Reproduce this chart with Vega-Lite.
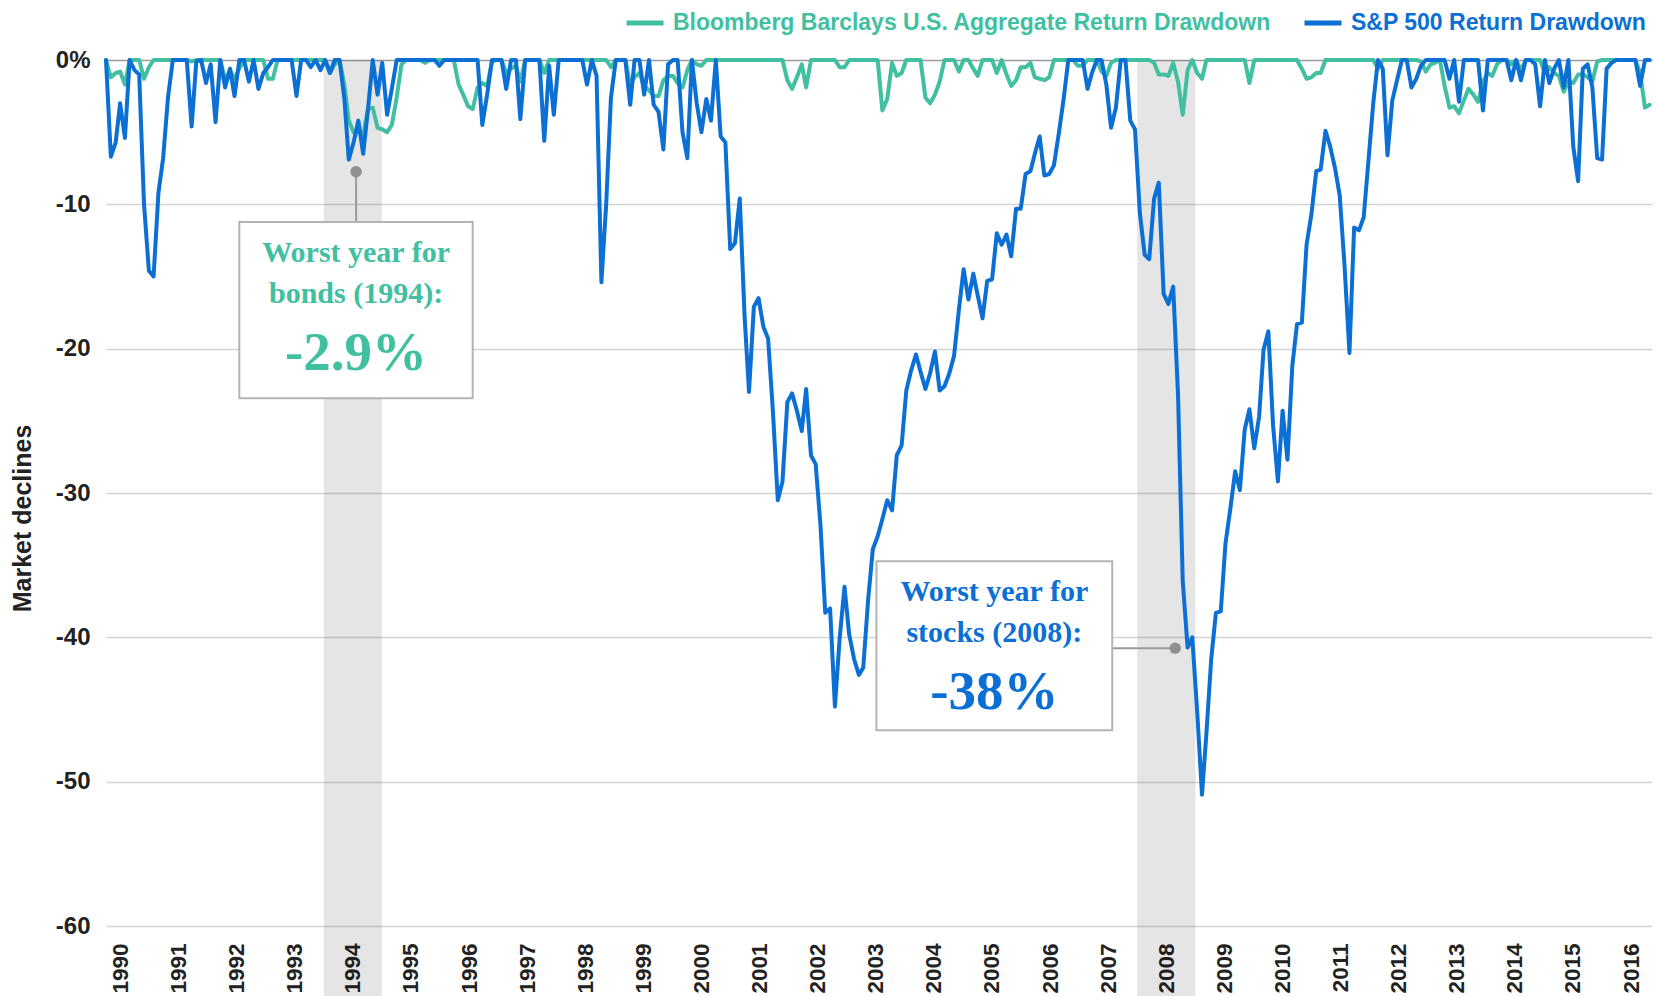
{
"$schema": "https://vega.github.io/schema/vega-lite/v6.json",
"width": 1546, "height": 866,
"autosize": {"type": "none"},
"padding": {"left": 106, "top": 60, "right": 4, "bottom": 70},
"background": "#ffffff",
"config": {"view": {"stroke": null}, "font": "Liberation Sans"},
"datasets": {
"bands": [{"year": "1994", "start": "1994-01-01", "end": "1995-01-01"}, {"year": "2008", "start": "2008-01-01", "end": "2009-01-01"}],
"notes": [
{"series": "b", "x0": "1992-07-19", "x1": "1996-07-25", "xc": "1994-07-23", "top": -11.23, "bottom": -23.44, "px": "1994-07-23", "py": -7.74, "lx0": "1994-07-23", "lx1": "1994-07-23", "ly0": -7.74, "ly1": -11.23, "l1": "Worst year for", "l2": "bonds (1994):", "v": "-2.9%"},
{"series": "s", "x0": "2003-07-07", "x1": "2007-07-28", "xc": "2005-07-17", "top": -34.72, "bottom": -46.43, "px": "2008-08-27", "py": -40.75, "lx0": "2007-07-28", "lx1": "2008-08-27", "ly0": -40.75, "ly1": -40.75, "l1": "Worst year for", "l2": "stocks (2008):", "v": "-38%"}
],
"m": [
{"d":"1989-12-01","s":0,"b":0},
{"d":"1990-01-01","s":-6.7,"b":-1.2},{"d":"1990-02-01","s":-5.7,"b":-0.9},{"d":"1990-03-01","s":-3.0,"b":-0.8},{"d":"1990-04-01","s":-5.4,"b":-1.7},{"d":"1990-05-01","s":0,"b":0},{"d":"1990-06-01","s":-0.7,"b":0},{"d":"1990-07-01","s":-1.0,"b":0},{"d":"1990-08-01","s":-10.0,"b":-1.3},{"d":"1990-09-01","s":-14.6,"b":-0.5},{"d":"1990-10-01","s":-15.0,"b":0},{"d":"1990-11-01","s":-9.2,"b":0},{"d":"1990-12-01","s":-6.8,"b":0},
{"d":"1991-01-01","s":-2.6,"b":0},{"d":"1991-02-01","s":0,"b":0},{"d":"1991-03-01","s":0,"b":0},{"d":"1991-04-01","s":0,"b":0},{"d":"1991-05-01","s":0,"b":0},{"d":"1991-06-01","s":-4.6,"b":-0.1},{"d":"1991-07-01","s":-0.1,"b":0},{"d":"1991-08-01","s":0,"b":0},{"d":"1991-09-01","s":-1.6,"b":0},{"d":"1991-10-01","s":-0.3,"b":0},{"d":"1991-11-01","s":-4.3,"b":0},{"d":"1991-12-01","s":0,"b":0},
{"d":"1992-01-01","s":-1.9,"b":-1.4},{"d":"1992-02-01","s":-0.6,"b":-0.7},{"d":"1992-03-01","s":-2.5,"b":-1.3},{"d":"1992-04-01","s":0,"b":-0.6},{"d":"1992-05-01","s":0,"b":0},{"d":"1992-06-01","s":-1.5,"b":0},{"d":"1992-07-01","s":0,"b":0},{"d":"1992-08-01","s":-2.0,"b":0},{"d":"1992-09-01","s":-0.9,"b":0},{"d":"1992-10-01","s":-0.5,"b":-1.3},{"d":"1992-11-01","s":0,"b":-1.3},{"d":"1992-12-01","s":0,"b":0},
{"d":"1993-01-01","s":0,"b":0},{"d":"1993-02-01","s":0,"b":0},{"d":"1993-03-01","s":0,"b":0},{"d":"1993-04-01","s":-2.5,"b":0},{"d":"1993-05-01","s":0,"b":0},{"d":"1993-06-01","s":0,"b":0},{"d":"1993-07-01","s":-0.5,"b":0},{"d":"1993-08-01","s":0,"b":0},{"d":"1993-09-01","s":-0.7,"b":0},{"d":"1993-10-01","s":0,"b":0},{"d":"1993-11-01","s":-0.9,"b":-0.9},{"d":"1993-12-01","s":0,"b":-0.3},
{"d":"1994-01-01","s":0,"b":0},{"d":"1994-02-01","s":-2.7,"b":-1.7},{"d":"1994-03-01","s":-6.9,"b":-4.2},{"d":"1994-04-01","s":-5.7,"b":-5.0},{"d":"1994-05-01","s":-4.2,"b":-5.0},{"d":"1994-06-01","s":-6.5,"b":-5.2},{"d":"1994-07-01","s":-3.5,"b":-3.4},{"d":"1994-08-01","s":0,"b":-3.3},{"d":"1994-09-01","s":-2.4,"b":-4.7},{"d":"1994-10-01","s":-0.2,"b":-4.8},{"d":"1994-11-01","s":-3.8,"b":-5.0},{"d":"1994-12-01","s":-2.0,"b":-4.5},
{"d":"1995-01-01","s":0,"b":-2.6},{"d":"1995-02-01","s":0,"b":-0.3},{"d":"1995-03-01","s":0,"b":0},{"d":"1995-04-01","s":0,"b":0},{"d":"1995-05-01","s":0,"b":0},{"d":"1995-06-01","s":0,"b":0},{"d":"1995-07-01","s":0,"b":-0.2},{"d":"1995-08-01","s":0,"b":0},{"d":"1995-09-01","s":0,"b":0},{"d":"1995-10-01","s":-0.4,"b":0},{"d":"1995-11-01","s":0,"b":0},{"d":"1995-12-01","s":0,"b":0},
{"d":"1996-01-01","s":0,"b":0},{"d":"1996-02-01","s":0,"b":-1.7},{"d":"1996-03-01","s":0,"b":-2.4},{"d":"1996-04-01","s":0,"b":-3.2},{"d":"1996-05-01","s":0,"b":-3.4},{"d":"1996-06-01","s":0,"b":-1.9},{"d":"1996-07-01","s":-4.5,"b":-1.6},{"d":"1996-08-01","s":-2.4,"b":-1.8},{"d":"1996-09-01","s":0,"b":-0.1},{"d":"1996-10-01","s":0,"b":0},{"d":"1996-11-01","s":0,"b":0},{"d":"1996-12-01","s":-2.0,"b":-0.9},
{"d":"1997-01-01","s":0,"b":-0.6},{"d":"1997-02-01","s":0,"b":-0.4},{"d":"1997-03-01","s":-4.1,"b":-1.5},{"d":"1997-04-01","s":0,"b":0},{"d":"1997-05-01","s":0,"b":0},{"d":"1997-06-01","s":0,"b":0},{"d":"1997-07-01","s":0,"b":0},{"d":"1997-08-01","s":-5.6,"b":-0.9},{"d":"1997-09-01","s":-0.4,"b":0},{"d":"1997-10-01","s":-3.8,"b":0},{"d":"1997-11-01","s":0,"b":0},{"d":"1997-12-01","s":0,"b":0},
{"d":"1998-01-01","s":0,"b":0},{"d":"1998-02-01","s":0,"b":0},{"d":"1998-03-01","s":0,"b":0},{"d":"1998-04-01","s":0,"b":0},{"d":"1998-05-01","s":-1.7,"b":0},{"d":"1998-06-01","s":0,"b":0},{"d":"1998-07-01","s":-1.1,"b":0},{"d":"1998-08-01","s":-15.4,"b":0},{"d":"1998-09-01","s":-9.9,"b":0},{"d":"1998-10-01","s":-2.6,"b":-0.5},{"d":"1998-11-01","s":0,"b":0},{"d":"1998-12-01","s":0,"b":0},
{"d":"1999-01-01","s":0,"b":0},{"d":"1999-02-01","s":-3.1,"b":-1.7},{"d":"1999-03-01","s":0,"b":-1.2},{"d":"1999-04-01","s":0,"b":-0.9},{"d":"1999-05-01","s":-2.4,"b":-1.8},{"d":"1999-06-01","s":0,"b":-2.1},{"d":"1999-07-01","s":-3.1,"b":-2.5},{"d":"1999-08-01","s":-3.6,"b":-2.5},{"d":"1999-09-01","s":-6.2,"b":-1.4},{"d":"1999-10-01","s":-0.3,"b":-1.1},{"d":"1999-11-01","s":0,"b":-1.1},{"d":"1999-12-01","s":0,"b":-1.6},
{"d":"2000-01-01","s":-5.0,"b":-1.9},{"d":"2000-02-01","s":-6.8,"b":-0.7},{"d":"2000-03-01","s":0,"b":0},{"d":"2000-04-01","s":-3.0,"b":-0.3},{"d":"2000-05-01","s":-5.0,"b":-0.4},{"d":"2000-06-01","s":-2.7,"b":0},{"d":"2000-07-01","s":-4.2,"b":0},{"d":"2000-08-01","s":0,"b":0},{"d":"2000-09-01","s":-5.3,"b":0},{"d":"2000-10-01","s":-5.7,"b":0},{"d":"2000-11-01","s":-13.1,"b":0},{"d":"2000-12-01","s":-12.7,"b":0},
{"d":"2001-01-01","s":-9.6,"b":0},{"d":"2001-02-01","s":-17.8,"b":0},{"d":"2001-03-01","s":-23.0,"b":0},{"d":"2001-04-01","s":-17.1,"b":0},{"d":"2001-05-01","s":-16.5,"b":0},{"d":"2001-06-01","s":-18.5,"b":0},{"d":"2001-07-01","s":-19.3,"b":0},{"d":"2001-08-01","s":-24.4,"b":0},{"d":"2001-09-01","s":-30.5,"b":0},{"d":"2001-10-01","s":-29.2,"b":0},{"d":"2001-11-01","s":-23.7,"b":-1.4},{"d":"2001-12-01","s":-23.1,"b":-2.0},
{"d":"2002-01-01","s":-24.3,"b":-1.2},{"d":"2002-02-01","s":-25.7,"b":-0.3},{"d":"2002-03-01","s":-22.8,"b":-1.9},{"d":"2002-04-01","s":-27.4,"b":0},{"d":"2002-05-01","s":-28.0,"b":0},{"d":"2002-06-01","s":-32.3,"b":0},{"d":"2002-07-01","s":-38.3,"b":0},{"d":"2002-08-01","s":-38.0,"b":0},{"d":"2002-09-01","s":-44.8,"b":0},{"d":"2002-10-01","s":-40.1,"b":-0.5},{"d":"2002-11-01","s":-36.5,"b":-0.5},{"d":"2002-12-01","s":-39.8,"b":0},
{"d":"2003-01-01","s":-41.5,"b":0},{"d":"2003-02-01","s":-42.6,"b":0},{"d":"2003-03-01","s":-42.1,"b":0},{"d":"2003-04-01","s":-37.4,"b":0},{"d":"2003-05-01","s":-33.9,"b":0},{"d":"2003-06-01","s":-33.0,"b":0},{"d":"2003-07-01","s":-31.8,"b":-3.5},{"d":"2003-08-01","s":-30.5,"b":-2.7},{"d":"2003-09-01","s":-31.2,"b":-0.2},{"d":"2003-10-01","s":-27.4,"b":-1.1},{"d":"2003-11-01","s":-26.7,"b":-0.9},{"d":"2003-12-01","s":-22.9,"b":0},
{"d":"2004-01-01","s":-21.5,"b":0},{"d":"2004-02-01","s":-20.4,"b":0},{"d":"2004-03-01","s":-21.6,"b":0},{"d":"2004-04-01","s":-22.8,"b":-2.6},{"d":"2004-05-01","s":-21.7,"b":-3.0},{"d":"2004-06-01","s":-20.2,"b":-2.4},{"d":"2004-07-01","s":-22.9,"b":-1.5},{"d":"2004-08-01","s":-22.6,"b":0},{"d":"2004-09-01","s":-21.7,"b":0},{"d":"2004-10-01","s":-20.5,"b":0},{"d":"2004-11-01","s":-17.3,"b":-0.8},{"d":"2004-12-01","s":-14.5,"b":0},
{"d":"2005-01-01","s":-16.6,"b":0},{"d":"2005-02-01","s":-14.8,"b":-0.6},{"d":"2005-03-01","s":-16.3,"b":-1.1},{"d":"2005-04-01","s":-17.9,"b":0},{"d":"2005-05-01","s":-15.3,"b":0},{"d":"2005-06-01","s":-15.2,"b":0},{"d":"2005-07-01","s":-12.0,"b":-0.9},{"d":"2005-08-01","s":-12.8,"b":0},{"d":"2005-09-01","s":-12.1,"b":-1.0},{"d":"2005-10-01","s":-13.6,"b":-1.8},{"d":"2005-11-01","s":-10.3,"b":-1.4},{"d":"2005-12-01","s":-10.3,"b":-0.5},
{"d":"2006-01-01","s":-7.9,"b":-0.5},{"d":"2006-02-01","s":-7.7,"b":-0.2},{"d":"2006-03-01","s":-6.5,"b":-1.2},{"d":"2006-04-01","s":-5.3,"b":-1.3},{"d":"2006-05-01","s":-8.0,"b":-1.4},{"d":"2006-06-01","s":-7.9,"b":-1.2},{"d":"2006-07-01","s":-7.3,"b":0},{"d":"2006-08-01","s":-5.1,"b":0},{"d":"2006-09-01","s":-2.7,"b":0},{"d":"2006-10-01","s":0,"b":0},{"d":"2006-11-01","s":0,"b":0},{"d":"2006-12-01","s":0,"b":-0.4},
{"d":"2007-01-01","s":0,"b":-0.4},{"d":"2007-02-01","s":-2.0,"b":0},{"d":"2007-03-01","s":-0.9,"b":0},{"d":"2007-04-01","s":0,"b":0},{"d":"2007-05-01","s":0,"b":-0.8},{"d":"2007-06-01","s":-1.7,"b":-1.1},{"d":"2007-07-01","s":-4.7,"b":-0.2},{"d":"2007-08-01","s":-3.3,"b":0},{"d":"2007-09-01","s":0,"b":0},{"d":"2007-10-01","s":0,"b":0},{"d":"2007-11-01","s":-4.2,"b":0},{"d":"2007-12-01","s":-4.8,"b":0},
{"d":"2008-01-01","s":-10.6,"b":0},{"d":"2008-02-01","s":-13.5,"b":0},{"d":"2008-03-01","s":-13.8,"b":0},{"d":"2008-04-01","s":-9.6,"b":-0.2},{"d":"2008-05-01","s":-8.5,"b":-1.0},{"d":"2008-06-01","s":-16.2,"b":-1.0},{"d":"2008-07-01","s":-16.9,"b":-1.1},{"d":"2008-08-01","s":-15.7,"b":-0.2},{"d":"2008-09-01","s":-23.2,"b":-1.5},{"d":"2008-10-01","s":-36.1,"b":-3.8},{"d":"2008-11-01","s":-40.7,"b":-0.7},{"d":"2008-12-01","s":-40.0,"b":0},
{"d":"2009-01-01","s":-45.1,"b":-0.9},{"d":"2009-02-01","s":-50.9,"b":-1.3},{"d":"2009-03-01","s":-46.7,"b":0},{"d":"2009-04-01","s":-41.5,"b":0},{"d":"2009-05-01","s":-38.3,"b":0},{"d":"2009-06-01","s":-38.2,"b":0},{"d":"2009-07-01","s":-33.5,"b":0},{"d":"2009-08-01","s":-31.1,"b":0},{"d":"2009-09-01","s":-28.5,"b":0},{"d":"2009-10-01","s":-29.8,"b":0},{"d":"2009-11-01","s":-25.6,"b":0},{"d":"2009-12-01","s":-24.2,"b":-1.6},
{"d":"2010-01-01","s":-26.9,"b":0},{"d":"2010-02-01","s":-24.7,"b":0},{"d":"2010-03-01","s":-20.1,"b":0},{"d":"2010-04-01","s":-18.8,"b":0},{"d":"2010-05-01","s":-25.3,"b":0},{"d":"2010-06-01","s":-29.2,"b":0},{"d":"2010-07-01","s":-24.3,"b":0},{"d":"2010-08-01","s":-27.7,"b":0},{"d":"2010-09-01","s":-21.2,"b":0},{"d":"2010-10-01","s":-18.3,"b":0},{"d":"2010-11-01","s":-18.2,"b":-0.6},{"d":"2010-12-01","s":-12.8,"b":-1.3},
{"d":"2011-01-01","s":-10.7,"b":-1.2},{"d":"2011-02-01","s":-7.7,"b":-0.9},{"d":"2011-03-01","s":-7.6,"b":-0.9},{"d":"2011-04-01","s":-4.9,"b":0},{"d":"2011-05-01","s":-6.0,"b":0},{"d":"2011-06-01","s":-7.5,"b":0},{"d":"2011-07-01","s":-9.4,"b":0},{"d":"2011-08-01","s":-14.3,"b":0},{"d":"2011-09-01","s":-20.3,"b":0},{"d":"2011-10-01","s":-11.6,"b":0},{"d":"2011-11-01","s":-11.8,"b":0},{"d":"2011-12-01","s":-10.9,"b":0},
{"d":"2012-01-01","s":-6.9,"b":0},{"d":"2012-02-01","s":-2.9,"b":0},{"d":"2012-03-01","s":0,"b":-0.6},{"d":"2012-04-01","s":-0.6,"b":0},{"d":"2012-05-01","s":-6.6,"b":0},{"d":"2012-06-01","s":-2.8,"b":0},{"d":"2012-07-01","s":-1.4,"b":0},{"d":"2012-08-01","s":0,"b":0},{"d":"2012-09-01","s":0,"b":0},{"d":"2012-10-01","s":-1.9,"b":0},{"d":"2012-11-01","s":-1.3,"b":0},{"d":"2012-12-01","s":-0.4,"b":-0.1},
{"d":"2013-01-01","s":0,"b":-0.8},{"d":"2013-02-01","s":0,"b":-0.3},{"d":"2013-03-01","s":0,"b":-0.2},{"d":"2013-04-01","s":0,"b":0},{"d":"2013-05-01","s":0,"b":-1.8},{"d":"2013-06-01","s":-1.3,"b":-3.3},{"d":"2013-07-01","s":0,"b":-3.2},{"d":"2013-08-01","s":-2.9,"b":-3.7},{"d":"2013-09-01","s":0,"b":-2.8},{"d":"2013-10-01","s":0,"b":-2.0},{"d":"2013-11-01","s":0,"b":-2.4},{"d":"2013-12-01","s":0,"b":-2.9},
{"d":"2014-01-01","s":-3.5,"b":-1.5},{"d":"2014-02-01","s":0,"b":-0.9},{"d":"2014-03-01","s":0,"b":-1.1},{"d":"2014-04-01","s":0,"b":-0.3},{"d":"2014-05-01","s":0,"b":0},{"d":"2014-06-01","s":0,"b":0},{"d":"2014-07-01","s":-1.4,"b":-0.3},{"d":"2014-08-01","s":0,"b":0},{"d":"2014-09-01","s":-1.4,"b":-0.7},{"d":"2014-10-01","s":0,"b":0},{"d":"2014-11-01","s":0,"b":0},{"d":"2014-12-01","s":-0.3,"b":0},
{"d":"2015-01-01","s":-3.2,"b":0},{"d":"2015-02-01","s":0,"b":-0.9},{"d":"2015-03-01","s":-1.6,"b":-0.5},{"d":"2015-04-01","s":-0.6,"b":-0.9},{"d":"2015-05-01","s":0,"b":-1.1},{"d":"2015-06-01","s":-1.9,"b":-2.2},{"d":"2015-07-01","s":0,"b":-1.5},{"d":"2015-08-01","s":-6.0,"b":-1.6},{"d":"2015-09-01","s":-8.4,"b":-1.0},{"d":"2015-10-01","s":-0.6,"b":-1.0},{"d":"2015-11-01","s":-0.3,"b":-1.2},{"d":"2015-12-01","s":-1.9,"b":-1.5},
{"d":"2016-01-01","s":-6.8,"b":-0.1},{"d":"2016-02-01","s":-6.9,"b":0},{"d":"2016-03-01","s":-0.6,"b":0},{"d":"2016-04-01","s":-0.2,"b":0},{"d":"2016-05-01","s":0,"b":0},{"d":"2016-06-01","s":0,"b":0},{"d":"2016-07-01","s":0,"b":0},{"d":"2016-08-01","s":0,"b":0},{"d":"2016-09-01","s":0,"b":0},{"d":"2016-10-01","s":-1.8,"b":-0.9},{"d":"2016-11-01","s":0,"b":-3.3},{"d":"2016-12-01","s":0,"b":-3.1}
]
},
"resolve": {"scale": {"x": "independent"}, "axis": {"x": "independent"}},
"layer": [
{
"data": {"name": "bands"},
"mark": {"type": "rect", "color": "#000000", "opacity": 0.1, "clip": false},
"encoding": {
"x": {"field": "start", "type": "temporal",
"scale": {"type": "utc", "domain": [{"year": 1990, "month": 4, "date": 3, "utc": true}, {"year": 2016, "month": 11, "date": 10, "utc": true}]},
"axis": {"values": [
{"year":1990,"month":7,"date":2,"utc":true},{"year":1991,"month":7,"date":2,"utc":true},{"year":1992,"month":7,"date":2,"utc":true},{"year":1993,"month":7,"date":2,"utc":true},{"year":1994,"month":7,"date":2,"utc":true},{"year":1995,"month":7,"date":2,"utc":true},{"year":1996,"month":7,"date":2,"utc":true},{"year":1997,"month":7,"date":2,"utc":true},{"year":1998,"month":7,"date":2,"utc":true},{"year":1999,"month":7,"date":2,"utc":true},{"year":2000,"month":7,"date":2,"utc":true},{"year":2001,"month":7,"date":2,"utc":true},{"year":2002,"month":7,"date":2,"utc":true},{"year":2003,"month":7,"date":2,"utc":true},{"year":2004,"month":7,"date":2,"utc":true},{"year":2005,"month":7,"date":2,"utc":true},{"year":2006,"month":7,"date":2,"utc":true},{"year":2007,"month":7,"date":2,"utc":true},{"year":2008,"month":7,"date":2,"utc":true},{"year":2009,"month":7,"date":2,"utc":true},{"year":2010,"month":7,"date":2,"utc":true},{"year":2011,"month":7,"date":2,"utc":true},{"year":2012,"month":7,"date":2,"utc":true},{"year":2013,"month":7,"date":2,"utc":true},{"year":2014,"month":7,"date":2,"utc":true},{"year":2015,"month":7,"date":2,"utc":true},{"year":2016,"month":7,"date":2,"utc":true}],
"labelExpr": "utcFormat(datum.value, '%Y')",
"labelAngle": 270, "labelAlign": "right", "labelBaseline": "middle", "labelPadding": 17,
"labelFont": "Liberation Sans", "labelFontSize": 22.5, "labelFontWeight": "bold", "labelColor": "#222222",
"ticks": false, "tickSize": 0, "domain": false, "grid": false, "title": null,
"labelOverlap": false, "labelFlush": false, "labelBound": false}},
"x2": {"field": "end"},
"y": {"datum": 0, "type": "quantitative", "title": "Market declines", "scale": {"domain": [-60, 0], "nice": false, "zero": false}},
"y2": {"datum": -66}
}
},
{
"data": {"name": "m"},
"layer": [
{
"mark": {"type": "line", "strokeWidth": 4, "strokeJoin": "round", "strokeCap": "round"},
"encoding": {
"x": {"field": "d", "type": "temporal", "scale": {"type": "utc", "domain": [{"year": 1989, "month": 12, "date": 1, "utc": true}, {"year": 2016, "month": 12, "date": 16, "utc": true}]}, "axis": null},
"y": {"field": "b", "type": "quantitative", "title": "Market declines", "scale": {"domain": [-60, 0], "nice": false, "zero": false},
"axis": {"values": [0, -10, -20, -30, -40, -50, -60],
"labelExpr": "datum.value === 0 ? '0%' : '-' + abs(datum.value)",
"labelFont": "Liberation Sans", "labelFontSize": 24, "labelFontWeight": "bold", "labelColor": "#222222", "labelPadding": 16,
"ticks": false, "tickSize": 0, "domain": false, "grid": true,
"gridColor": {"condition": {"test": "datum.value === 0", "value": "#9a9a9a"}, "value": "#d4d4d4"},
"gridWidth": 1.5,
"title": "Market declines", "titleFont": "Liberation Sans", "titleFontSize": 25, "titleFontWeight": "bold", "titleColor": "#222222",
"titleX": -84, "titleY": 458, "titleAngle": 270, "titleAlign": "center", "titleBaseline": "middle"}},
"color": {"datum": "b", "type": "nominal",
"scale": {"domain": ["b", "s"], "range": ["#41BFA1", "#0B6FD3"]},
"legend": {"orient": "none", "legendX": 518, "legendY": -58, "direction": "horizontal", "title": null,
"symbolType": "stroke", "symbolStrokeWidth": 5, "symbolSize": 1369,
"labelFont": "Liberation Sans", "labelFontSize": 23, "labelFontWeight": "bold",
"labelOffset": 7, "columnPadding": 22, "labelLimit": 1000, "padding": 0,
"labelExpr": "datum.value === 'b' ? 'Bloomberg Barclays U.S. Aggregate Return Drawdown' : 'S&P 500 Return Drawdown'",
"encode": {"labels": {"update": {"fill": {"scale": "color", "field": "value"}}}}}}
}
},
{
"mark": {"type": "line", "strokeWidth": 4, "strokeJoin": "round", "strokeCap": "round"},
"encoding": {
"x": {"field": "d", "type": "temporal"},
"y": {"field": "s", "type": "quantitative", "title": "Market declines"},
"color": {"datum": "s", "type": "nominal"}
}
}
]
},
{
"data": {"name": "notes"},
"layer": [
{
"mark": {"type": "rule", "color": "#9a9a9a", "strokeWidth": 2},
"encoding": {
"x": {"field": "lx0", "type": "temporal", "scale": {"type": "utc", "domain": [{"year": 1990, "month": 4, "date": 3, "utc": true}, {"year": 2016, "month": 11, "date": 10, "utc": true}]}, "axis": null},
"x2": {"field": "lx1"},
"y": {"field": "ly0", "type": "quantitative", "title": "Market declines"},
"y2": {"field": "ly1"}
}
},
{
"mark": {"type": "rect", "fill": "#ffffff", "stroke": "#b3b3b3", "strokeWidth": 2},
"encoding": {
"x": {"field": "x0", "type": "temporal"},
"x2": {"field": "x1"},
"y": {"field": "top", "type": "quantitative", "title": "Market declines"},
"y2": {"field": "bottom"}
}
},
{
"mark": {"type": "point", "filled": true, "size": 130, "color": "#8f8f8f", "opacity": 1},
"encoding": {
"x": {"field": "px", "type": "temporal"},
"y": {"field": "py", "type": "quantitative", "title": "Market declines"}
}
},
{
"mark": {"type": "text", "font": "Liberation Serif", "fontWeight": "bold", "fontSize": 30, "align": "center", "baseline": "alphabetic", "dy": 40},
"encoding": {
"x": {"field": "xc", "type": "temporal"},
"y": {"field": "top", "type": "quantitative", "title": "Market declines"},
"text": {"field": "l1"},
"color": {"field": "series", "type": "nominal", "legend": null}
}
},
{
"mark": {"type": "text", "font": "Liberation Serif", "fontWeight": "bold", "fontSize": 30, "align": "center", "baseline": "alphabetic", "dy": 81},
"encoding": {
"x": {"field": "xc", "type": "temporal"},
"y": {"field": "top", "type": "quantitative", "title": "Market declines"},
"text": {"field": "l2"},
"color": {"field": "series", "type": "nominal", "legend": null}
}
},
{
"mark": {"type": "text", "font": "Liberation Serif", "fontWeight": "bold", "fontSize": 55, "align": "center", "baseline": "alphabetic", "dy": 148},
"encoding": {
"x": {"field": "xc", "type": "temporal"},
"y": {"field": "top", "type": "quantitative", "title": "Market declines"},
"text": {"field": "v"},
"color": {"field": "series", "type": "nominal", "legend": null}
}
}
]
}
]
}
